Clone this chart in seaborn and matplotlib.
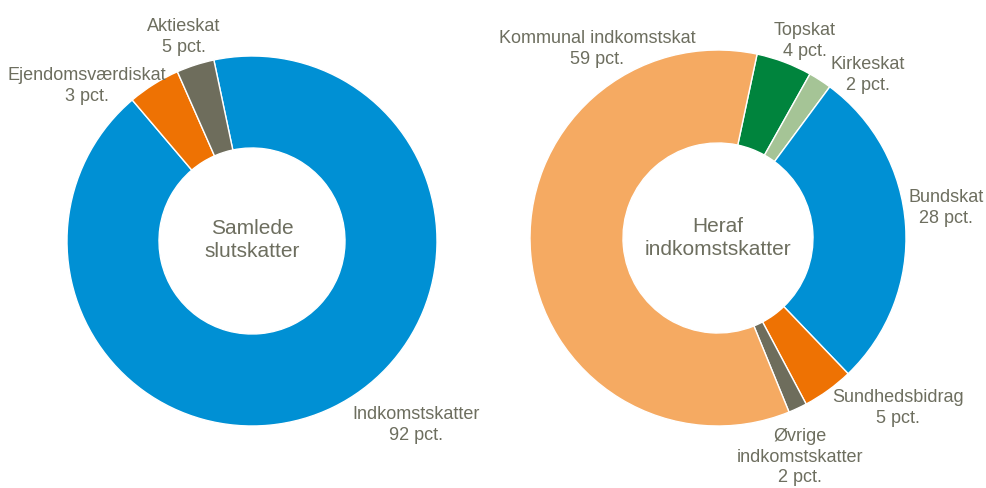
import matplotlib
matplotlib.use("Agg")
import matplotlib.pyplot as plt
import seaborn as sns

# venstre donut: samlede slutskatter (andele)
samlede_navne = ["Indkomstskatter", "Ejendomsværdiskat", "Aktieskat"]
samlede_andele = [92.1, 4.6, 3.3]
samlede_labels = ["Indkomstskatter\n92 pct.", "Ejendomsværdiskat\n3 pct.", "Aktieskat\n5 pct."]

# højre donut: heraf indkomstskatter
indkomst_navne = ["Topskat", "Kirkeskat", "Bundskat", "Sundhedsbidrag",
                  "Øvrige indkomstskatter", "Kommunal indkomstskat"]
indkomst_andele = [4.8, 2.0, 27.7, 4.4, 1.6, 59.5]
indkomst_labels = ["Topskat\n4 pct.", "Kirkeskat\n2 pct.", "Bundskat\n28 pct.",
                   "Sundhedsbidrag\n5 pct.", "Øvrige\nindkomstskatter\n2 pct.",
                   "Kommunal indkomstskat\n59 pct."]

sns.set_theme(style="white")
plt.rcParams["font.family"] = ["Liberation Sans Narrow", "Liberation Sans", "DejaVu Sans"]

tekst = "#6d6e5f"
blaa, orange, graa = "#0090d4", "#ee7203", "#6e6d5c"
lysorange, groen, lysgroen = "#f5aa62", "#00843d", "#a5c496"

W, H = 986, 488
fig = plt.figure(figsize=(W / 100, H / 100), dpi=100)
ax = fig.add_axes([0, 0, 1, 1])

ax.pie(samlede_andele, colors=[blaa, orange, graa], center=(252, H - 241), radius=185,
       startangle=101.9, counterclock=False,
       wedgeprops=dict(width=92, edgecolor="white", linewidth=1))
ax.pie(indkomst_andele, colors=[groen, lysgroen, blaa, orange, graa, lysorange],
       center=(718, H - 238), radius=188, startangle=78, counterclock=False,
       wedgeprops=dict(width=93, edgecolor="white", linewidth=1))

ax.set_xlim(0, W)
ax.set_ylim(0, H)
ax.set_aspect("equal")
ax.axis("off")

# labelpositioner i pixel (x, y fra toppen)
venstre_pos = [(416, 425), (87, 86), (184, 37)]
hoejre_pos = [(805, 41), (868, 75), (946, 208), (898, 408), (800, 457), (597, 49)]

for lab, (x, y) in zip(samlede_labels, venstre_pos):
    ax.text(x, H - y, lab, ha="center", va="center", fontsize=13, color=tekst, linespacing=1.25)
for lab, (x, y) in zip(indkomst_labels, hoejre_pos):
    ax.text(x, H - y, lab, ha="center", va="center", fontsize=13, color=tekst, linespacing=1.25)

ax.text(252, H - 240, "Samlede\nslutskatter", ha="center", va="center", fontsize=15,
        color=tekst, linespacing=1.3)
ax.text(718, H - 238, "Heraf\nindkomstskatter", ha="center", va="center", fontsize=15,
        color=tekst, linespacing=1.3)

fig.savefig("out.png", dpi=100)
